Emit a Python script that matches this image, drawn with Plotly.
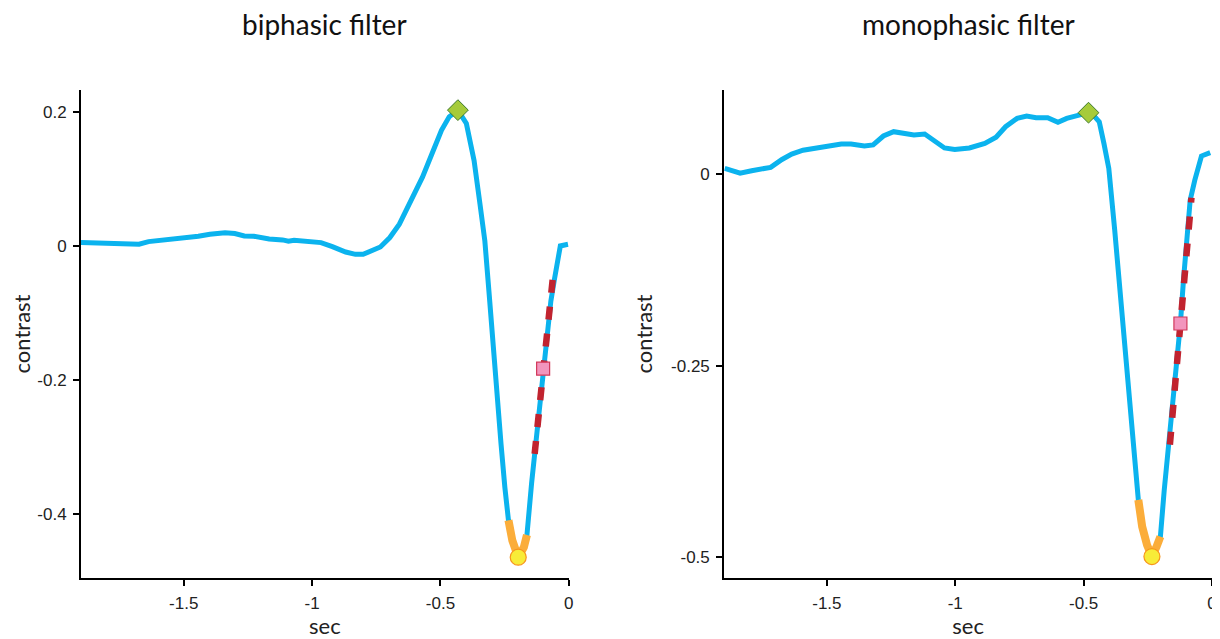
import plotly.graph_objects as go

# ---------------- data: biphasic filter ----------------
bi_t = [-1.900, -1.816, -1.772, -1.697, -1.674, -1.637, -1.577, -1.503, -1.443, -1.398,
        -1.339, -1.301, -1.264, -1.227, -1.167, -1.115, -1.092, -1.070, -1.025, -0.965,
        -0.921, -0.869, -0.831, -0.801, -0.734, -0.697, -0.660, -0.615, -0.570, -0.533,
        -0.496, -0.466, -0.432, -0.399, -0.369, -0.346, -0.327, -0.309, -0.294, -0.279,
        -0.264, -0.249, -0.235, -0.220, -0.197, -0.175, -0.163, -0.145, -0.130, -0.115,
        -0.100, -0.085, -0.070, -0.055, -0.033, -0.003]
bi_c = [0.005, 0.004, 0.0025, 0.0015, 0.0025, 0.0065, 0.0085, 0.011, 0.0145, 0.0175,
        0.0195, 0.0185, 0.015, 0.0145, 0.0105, 0.009, 0.007, 0.0085, 0.007, 0.005,
        -0.001, -0.009, -0.0125, -0.0125, -0.0015, 0.0125, 0.0325, 0.0675, 0.1025, 0.1375,
        0.1725, 0.1925, 0.2025, 0.1825, 0.1275, 0.0625, 0.0075, -0.0775, -0.155, -0.228,
        -0.295, -0.360, -0.409, -0.439, -0.464, -0.449, -0.431, -0.354, -0.300, -0.230,
        -0.183, -0.1275, -0.0825, -0.0475, 0.0, 0.0025]
bi_trough_t = [-0.235, -0.220, -0.197, -0.175, -0.163]
bi_trough_c = [-0.409, -0.439, -0.464, -0.449, -0.431]
bi_slope_t = [-0.133, -0.062]
bi_slope_c = [-0.310, -0.047]
bi_peak = (-0.432, 0.2025)
bi_min = (-0.197, -0.464)
bi_mid = (-0.100, -0.183)

# ---------------- data: monophasic filter ----------------
mo_t = [-1.898, -1.838, -1.793, -1.719, -1.675, -1.637, -1.593, -1.526, -1.444, -1.406,
        -1.354, -1.320, -1.280, -1.240, -1.161, -1.119, -1.079, -1.042, -1.002, -0.945,
        -0.885, -0.841, -0.804, -0.759, -0.722, -0.685, -0.640, -0.600, -0.566, -0.521,
        -0.481, -0.457, -0.439, -0.421, -0.402, -0.379, -0.357, -0.335, -0.320, -0.305,
        -0.287, -0.272, -0.253, -0.234, -0.216, -0.201, -0.186, -0.170, -0.156, -0.141,
        -0.123, -0.111, -0.099, -0.085, -0.067, -0.041, -0.007]
mo_c = [0.0074, 0.001, 0.0043, 0.0087, 0.019, 0.026, 0.031, 0.034, 0.039, 0.039,
        0.0365, 0.038, 0.0496, 0.0552, 0.0509, 0.0522, 0.0435, 0.034, 0.032, 0.034,
        0.040, 0.048, 0.0617, 0.0726, 0.0757, 0.0735, 0.0735, 0.0674, 0.0726, 0.077,
        0.080, 0.0748, 0.068, 0.040, 0.0074, -0.073, -0.160, -0.234, -0.295, -0.360,
        -0.425, -0.460, -0.484, -0.499, -0.486, -0.473, -0.412, -0.360, -0.308, -0.264,
        -0.195, -0.138, -0.082, -0.034, -0.008, 0.0235, 0.028]
mo_trough_t = [-0.287, -0.272, -0.253, -0.234, -0.216, -0.201]
mo_trough_c = [-0.425, -0.460, -0.484, -0.499, -0.486, -0.473]
mo_slope_t = [-0.164, -0.080]
mo_slope_c = [-0.353, -0.031]
mo_peak = (-0.481, 0.080)
mo_min = (-0.234, -0.499)
mo_mid = (-0.123, -0.195)

titles = ["biphasic filter", "monophasic filter"]
bi_yticks = [-0.4, -0.2, 0, 0.2]
bi_yticklabels = ["-0.4", "-0.2", "0", "0.2"]
mo_yticks = [-0.5, -0.25, 0]
mo_yticklabels = ["-0.5", "-0.25", "0"]
xticks = [-1.5, -1, -0.5, 0]
xticklabels = ["-1.5", "-1", "-0.5", "0"]

BLUE = "#0bb3ee"
ORANGE = "#fbad3a"
RED = "#c1232f"

fig = go.Figure()

def add_panel(xa, ya, t, c, tt, tc, st, sc, peak, mn, mid):
    fig.add_trace(go.Scatter(x=t, y=c, mode="lines", line=dict(color=BLUE, width=5),
                             xaxis=xa, yaxis=ya, showlegend=False, hoverinfo="skip"))
    fig.add_trace(go.Scatter(x=tt, y=tc, mode="lines", line=dict(color=ORANGE, width=8),
                             xaxis=xa, yaxis=ya, showlegend=False, hoverinfo="skip"))
    fig.add_trace(go.Scatter(x=st, y=sc, mode="lines",
                             line=dict(color=RED, width=6.5, dash="13px,14px"),
                             xaxis=xa, yaxis=ya, showlegend=False, hoverinfo="skip"))
    fig.add_trace(go.Scatter(x=[peak[0]], y=[peak[1]], mode="markers",
                             marker=dict(symbol="diamond", size=16, color="#a6cb3a",
                                         line=dict(color="#3d7a2b", width=1)),
                             xaxis=xa, yaxis=ya, showlegend=False))
    fig.add_trace(go.Scatter(x=[mn[0]], y=[mn[1]], mode="markers",
                             marker=dict(symbol="circle", size=16, color="#f8ec38",
                                         line=dict(color="#f7941d", width=1.2)),
                             xaxis=xa, yaxis=ya, showlegend=False))
    fig.add_trace(go.Scatter(x=[mid[0]], y=[mid[1]], mode="markers",
                             marker=dict(symbol="square", size=13, color="#f295bd",
                                         line=dict(color="#d23a5c", width=1.2)),
                             xaxis=xa, yaxis=ya, showlegend=False))

add_panel("x", "y", bi_t, bi_c, bi_trough_t, bi_trough_c, bi_slope_t, bi_slope_c,
          bi_peak, bi_min, bi_mid)
add_panel("x2", "y2", mo_t, mo_c, mo_trough_t, mo_trough_c, mo_slope_t, mo_slope_c,
          mo_peak, mo_min, mo_mid)

tickfont = dict(family="Liberation Sans, Arial", size=17, color="#222")
labfont = dict(family="Lato, Open Sans", size=22, color="#222")
axis_common = dict(showline=True, linecolor="black", linewidth=2, ticks="outside",
                   ticklen=6, tickwidth=2, tickcolor="black", showgrid=False,
                   zeroline=False, tickfont=tickfont, fixedrange=True, automargin=False)

# the page body has an 8px margin, so the figure is drawn 8px right/down
fig.update_layout(
    width=1212, height=631,
    paper_bgcolor="white", plot_bgcolor="white",
    margin=dict(l=73, r=8, t=82, b=61, autoexpand=False),
    xaxis=dict(domain=[0, 0.4313], range=[-1.9, 0], tickvals=xticks, ticktext=xticklabels,
               anchor="y", ticklabelstandoff=3,
               title=dict(text="sec", font=labfont, standoff=4), **axis_common),
    yaxis=dict(domain=[0, 1], range=[-0.495, 0.2325], tickvals=bi_yticks,
               ticktext=bi_yticklabels, anchor="x", ticklabelstandoff=3,
               title=dict(text="contrast", font=labfont, standoff=12), **axis_common),
    xaxis2=dict(domain=[0.5687, 1], range=[-1.9, 0], tickvals=xticks, ticktext=xticklabels,
                anchor="y2", ticklabelstandoff=3,
                title=dict(text="sec", font=labfont, standoff=4), **axis_common),
    yaxis2=dict(domain=[0, 1], range=[-0.527, 0.1096], tickvals=mo_yticks,
                ticktext=mo_yticklabels, anchor="x2", ticklabelstandoff=3,
                title=dict(text="contrast", font=labfont, standoff=12), **axis_common),
)
for i, txt in enumerate(titles):
    fig.add_annotation(text=txt, x=[0.2157, 0.7843][i], xref="paper", xanchor="center",
                       y=1, yref="paper", yshift=66, yanchor="middle", showarrow=False,
                       font=dict(family="Lato, Open Sans", size=28, color="#111"))

fig.write_html("out.html")
